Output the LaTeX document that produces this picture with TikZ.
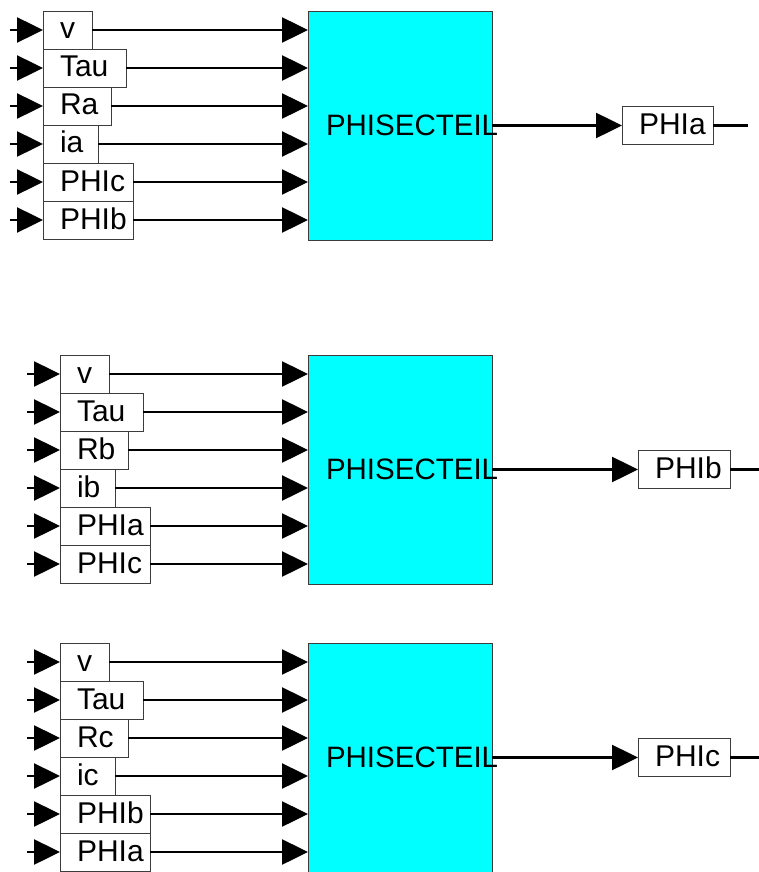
\documentclass[tikz,border=0pt]{standalone}
\usepackage{fontspec}
\setmainfont{Liberation Sans}
\usetikzlibrary{arrows.meta,positioning}
\definecolor{blockcyan}{RGB}{0,255,255}
\definecolor{framegray}{RGB}{60,60,60}

\begin{document}
\begin{tikzpicture}[x=1pt,y=-1pt,
        node distance=0pt,
        sig/.style={draw=framegray,line width=0.9pt,fill=white,outer sep=0pt,
                    inner xsep=17pt,inner ysep=7pt,text width=#1,
                    minimum height=38pt,text height=21pt,text depth=3pt,
                    align=left,font=\fontsize{30}{31}\selectfont},
        phiblock/.style={draw=framegray,line width=0.9pt,fill=blockcyan,
                    outer sep=0pt,minimum width=184pt,minimum height=229pt,
                    inner xsep=18pt,text width=148pt,align=left,
                    font=\fontsize{29.5}{30}\selectfont},
        arr/.style={-{Triangle[length=26pt,width=25pt]},line width=2.5pt},
        tail/.style={line width=2.5pt}]
        \useasboundingbox (0,0) rectangle (758,872);
        % phase a
        \node[phiblock,anchor=north west] (phi1) at (308,11) {PHISECTEIL};
        \node[sig=15pt,anchor=north west] (v1) at (43,11) {v};
        \node[sig=49pt,below right=of v1.south west]   (tau1)  {Tau};
        \node[sig=34pt,below right=of tau1.south west] (r1)    {Ra};
        \node[sig=21pt,below right=of r1.south west]   (i1)    {ia};
        \node[sig=56pt,below right=of i1.south west]   (phic1) {PHIc};
        \node[sig=56pt,below right=of phic1.south west] (phib1) {PHIb};
        \node[sig=57pt,anchor=west] (out1) at ([xshift=130pt]phi1.east) {PHIa};
        \draw[arr] ([xshift=-33pt]v1.west) -- (v1.west);
        \draw[arr] ([xshift=-33pt]tau1.west) -- (tau1.west);
        \draw[arr] ([xshift=-33pt]r1.west) -- (r1.west);
        \draw[arr] ([xshift=-33pt]i1.west) -- (i1.west);
        \draw[arr] ([xshift=-33pt]phic1.west) -- (phic1.west);
        \draw[arr] ([xshift=-33pt]phib1.west) -- (phib1.west);
        \draw[arr] (v1.east) -- (v1.east -| phi1.west);
        \draw[arr] (tau1.east) -- (tau1.east -| phi1.west);
        \draw[arr] (r1.east) -- (r1.east -| phi1.west);
        \draw[arr] (i1.east) -- (i1.east -| phi1.west);
        \draw[arr] (phic1.east) -- (phic1.east -| phi1.west);
        \draw[arr] (phib1.east) -- (phib1.east -| phi1.west);
        \draw[arr] (phi1.east) -- (out1.west);
        \draw[tail] (out1.east) -- ([xshift=35pt]out1.east);
        % phase b
        \node[phiblock,anchor=north west] (phi2) at (308,355) {PHISECTEIL};
        \node[sig=15pt,anchor=north west] (v2) at (60,355) {v};
        \node[sig=49pt,below right=of v2.south west]   (tau2)  {Tau};
        \node[sig=34pt,below right=of tau2.south west] (r2)    {Rb};
        \node[sig=21pt,below right=of r2.south west]   (i2)    {ib};
        \node[sig=56pt,below right=of i2.south west]   (phia2) {PHIa};
        \node[sig=56pt,below right=of phia2.south west] (phic2) {PHIc};
        \node[sig=58pt,anchor=west] (out2) at ([xshift=146pt]phi2.east) {PHIb};
        \draw[arr] ([xshift=-33pt]v2.west) -- (v2.west);
        \draw[arr] ([xshift=-33pt]tau2.west) -- (tau2.west);
        \draw[arr] ([xshift=-33pt]r2.west) -- (r2.west);
        \draw[arr] ([xshift=-33pt]i2.west) -- (i2.west);
        \draw[arr] ([xshift=-33pt]phia2.west) -- (phia2.west);
        \draw[arr] ([xshift=-33pt]phic2.west) -- (phic2.west);
        \draw[arr] (v2.east) -- (v2.east -| phi2.west);
        \draw[arr] (tau2.east) -- (tau2.east -| phi2.west);
        \draw[arr] (r2.east) -- (r2.east -| phi2.west);
        \draw[arr] (i2.east) -- (i2.east -| phi2.west);
        \draw[arr] (phia2.east) -- (phia2.east -| phi2.west);
        \draw[arr] (phic2.east) -- (phic2.east -| phi2.west);
        \draw[arr] (phi2.east) -- (out2.west);
        \draw[tail] (out2.east) -- ([xshift=35pt]out2.east);
        % phase c
        \node[phiblock,anchor=north west] (phi3) at (308,643) {PHISECTEIL};
        \node[sig=15pt,anchor=north west] (v3) at (60,643) {v};
        \node[sig=49pt,below right=of v3.south west]   (tau3)  {Tau};
        \node[sig=34pt,below right=of tau3.south west] (r3)    {Rc};
        \node[sig=21pt,below right=of r3.south west]   (i3)    {ic};
        \node[sig=56pt,below right=of i3.south west]   (phib3) {PHIb};
        \node[sig=56pt,below right=of phib3.south west] (phia3) {PHIa};
        \node[sig=58pt,anchor=west] (out3) at ([xshift=146pt]phi3.east) {PHIc};
        \draw[arr] ([xshift=-33pt]v3.west) -- (v3.west);
        \draw[arr] ([xshift=-33pt]tau3.west) -- (tau3.west);
        \draw[arr] ([xshift=-33pt]r3.west) -- (r3.west);
        \draw[arr] ([xshift=-33pt]i3.west) -- (i3.west);
        \draw[arr] ([xshift=-33pt]phib3.west) -- (phib3.west);
        \draw[arr] ([xshift=-33pt]phia3.west) -- (phia3.west);
        \draw[arr] (v3.east) -- (v3.east -| phi3.west);
        \draw[arr] (tau3.east) -- (tau3.east -| phi3.west);
        \draw[arr] (r3.east) -- (r3.east -| phi3.west);
        \draw[arr] (i3.east) -- (i3.east -| phi3.west);
        \draw[arr] (phib3.east) -- (phib3.east -| phi3.west);
        \draw[arr] (phia3.east) -- (phia3.east -| phi3.west);
        \draw[arr] (phi3.east) -- (out3.west);
        \draw[tail] (out3.east) -- ([xshift=35pt]out3.east);
      \end{tikzpicture}
\end{document}
